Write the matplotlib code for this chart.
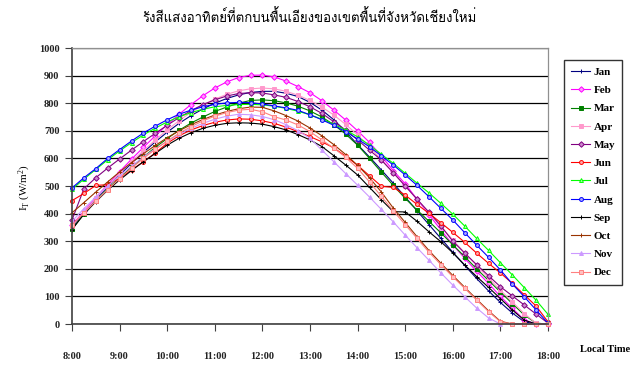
import numpy as np
import matplotlib
matplotlib.use('Agg')
import matplotlib.pyplot as plt
from matplotlib import font_manager
from matplotlib.ft2font import FT2Font

plt.rcParams.update({
    'font.family': ['Liberation Serif', 'DejaVu Serif'],
    'font.size': 8,
    'mathtext.fontset': 'custom',
    'mathtext.rm': 'Liberation Serif',
    'mathtext.it': 'Liberation Serif:italic',
})

TITLE = 'รังสีแสงอาทิตย์ที่ตกบนพื้นเอียงของเขตพื้นที่จังหวัดเชียงใหม่'
MONTHS = ['Jan', 'Feb', 'Mar', 'Apr', 'May', 'Jun',
          'Jul', 'Aug', 'Sep', 'Oct', 'Nov', 'Dec']
HOUR_LABELS = ['8:00', '9:00', '10:00', '11:00', '12:00', '13:00',
               '14:00', '15:00', '16:00', '17:00', '18:00']

# irradiance on tilted plane (W/m2), every 15 min from 8:00 to 18:00
jan = [350, 405, 452, 497, 540, 582, 622, 660, 695, 727, 755, 779, 800, 817,
       830, 839, 843, 843, 836, 824, 803, 775, 740, 697, 650, 605, 558, 510,
       460, 410, 360, 310, 260, 212, 165, 120, 78, 40, 8, 0, 0]
feb = [359, 408, 458, 505, 552, 597, 640, 682, 722, 760, 795, 827, 855, 877,
       893, 901, 902, 895, 880, 860, 838, 809, 775, 739, 700, 658, 608, 556,
       508, 452, 396, 341, 287, 238, 191, 147, 100, 57, 15, 0, 0]
mar = [344, 398, 445, 490, 530, 568, 605, 640, 672, 702, 728, 750, 770, 786,
       800, 810, 812, 809, 801, 789, 772, 750, 722, 688, 648, 600, 550, 502,
       455, 413, 372, 330, 287, 244, 200, 158, 116, 74, 33, 3, 0]
apr = [355, 405, 455, 502, 546, 588, 628, 667, 703, 737, 767, 793, 815, 832,
       845, 852, 855, 852, 843, 829, 810, 786, 757, 723, 685, 642, 596, 548,
       500, 451, 402, 353, 305, 258, 212, 167, 123, 80, 38, 3, 0]
may = [377, 490, 530, 565, 598, 630, 661, 691, 720, 748, 773, 795, 812, 826,
       835, 838, 837, 830, 821, 806, 787, 763, 733, 703, 667, 630, 594, 548,
       500, 452, 405, 355, 300, 257, 215, 175, 135, 102, 69, 36, 3]
jun = [447, 473, 502, 505, 528, 558, 588, 620, 655, 682, 703, 719, 731, 739,
       743, 742, 736, 727, 713, 697, 679, 660, 638, 608, 575, 537, 499, 495,
       467, 433, 401, 367, 332, 296, 257, 220, 185, 147, 106, 65, 8]
jul = [488, 525, 560, 595, 627, 657, 685, 710, 732, 751, 766, 778, 787, 792,
       795, 796, 794, 789, 781, 771, 758, 742, 724, 703, 678, 648, 615, 582,
       546, 510, 475, 437, 398, 355, 310, 267, 222, 178, 132, 86, 35]
aug = [493, 530, 563, 600, 632, 663, 692, 717, 740, 760, 775, 787, 796, 801,
       803, 802, 797, 790, 783, 774, 758, 740, 720, 697, 670, 642, 609, 576,
       540, 502, 461, 419, 377, 331, 286, 242, 196, 145, 99, 51, 3]
sep = [342, 398, 443, 485, 522, 556, 588, 618, 648, 673, 693, 709, 720, 727,
       729, 728, 724, 715, 703, 686, 667, 643, 610, 576, 540, 495, 450, 407,
       406, 372, 334, 298, 258, 214, 172, 133, 92, 51, 14, 0, 0]
oct_ = [403, 440, 478, 515, 551, 585, 617, 647, 675, 700, 722, 741, 757, 770,
        780, 786, 785, 772, 755, 735, 710, 682, 650, 614, 575, 530, 478, 420,
        368, 316, 266, 220, 176, 133, 90, 48, 10, 0, 0, 0, 0]
nov = [372, 418, 460, 500, 537, 572, 605, 635, 662, 687, 709, 727, 742, 753,
       760, 758, 752, 740, 722, 700, 673, 630, 588, 545, 503, 460, 415, 370,
       322, 276, 231, 185, 141, 99, 58, 22, 0, 0, 0, 0, 0]
dec = [360, 402, 445, 487, 527, 565, 600, 633, 663, 691, 715, 736, 753, 766,
       775, 778, 769, 751, 739, 721, 697, 667, 637, 604, 564, 515, 462, 410,
       360, 310, 260, 215, 171, 129, 87, 45, 8, 0, 0, 0, 0]

SERIES = [jan, feb, mar, apr, may, jun, jul, aug, sep, oct_, nov, dec]

# (line colour, marker, marker face)
STYLES = [
    ('#000080', '+', '#000080'),
    ('#FF00FF', 'D', '#FF99FF'),
    ('#008000', 's', '#008000'),
    ('#FF99CC', 's', '#FF99CC'),
    ('#800080', 'D', '#CC88CC'),
    ('#FF0000', 'o', '#FFAAAA'),
    ('#00FF00', '^', '#AAFFAA'),
    ('#0000FF', 'o', '#AAAAFF'),
    ('#000000', '+', '#000000'),
    ('#993300', '+', '#993300'),
    ('#CC99FF', '^', '#CC99FF'),
    ('#FF8080', 's', '#FFC0C0'),
]


def thai_font():
    for f in font_manager.fontManager.ttflist:
        try:
            if 0x0E23 in FT2Font(f.fname).get_charmap():
                return f.name
        except Exception:
            pass
    return None


W, H = 632, 367
fig = plt.figure(figsize=(W / 100, H / 100), dpi=100)
ax = fig.add_axes([72 / W, 1 - 324 / H, (548 - 72) / W, (324 - 48) / H])

times = np.linspace(8, 18, len(jan))
for vals, name, (c, m, mfc) in zip(SERIES, MONTHS, STYLES):
    ax.plot(times, vals, color=c, lw=0.8, marker=m, ms=2.8,
            mfc=mfc, mec=c, mew=0.7, label=name, clip_on=False)

ax.set_xlim(8, 18)
ax.set_ylim(0, 1000)
ax.set_xticks(np.arange(8, 19))
ax.set_xticklabels(HOUR_LABELS)
ax.set_yticks(np.arange(0, 1001, 100))
ax.yaxis.grid(True, color='black', lw=0.9)
ax.set_axisbelow(True)
ax.tick_params(axis='x', direction='out', length=5, pad=15, labelsize=7.5,
               color='#404040')
ax.tick_params(axis='y', direction='out', length=5, pad=4, labelsize=7.5,
               color='#404040')
for lab in ax.get_xticklabels() + ax.get_yticklabels():
    lab.set_fontweight('bold')
    lab.set_color('#222222')
for side in ['top', 'right']:
    ax.spines[side].set_color('#909090')
    ax.spines[side].set_linewidth(0.9)
for side in ['left', 'bottom']:
    ax.spines[side].set_color('#404040')
    ax.spines[side].set_linewidth(1.2)

tf = thai_font()
fam = [tf, 'DejaVu Sans'] if tf else ['DejaVu Sans']
fig.text(310 / W, 1 - 17 / H, TITLE, ha='center', va='center',
         fontsize=9.5, family=fam)

fig.text(25 / W, 1 - 188 / H, r'I$_\mathrm{T}$ (W/m$^2$)', rotation=90,
         ha='center', va='center', fontsize=8)
fig.text(605 / W, 1 - 349 / H, 'Local Time', ha='center', va='center',
         fontsize=7.5, fontweight='bold')

leg = fig.legend(loc='upper left', bbox_to_anchor=(564 / W, 1 - 60 / H),
                 frameon=True, fancybox=False, edgecolor='black',
                 fontsize=8, labelspacing=0.76, handlelength=1.7,
                 handletextpad=0.3, borderpad=0.65, borderaxespad=0)
leg.get_frame().set_linewidth(1.0)
for t in leg.get_texts():
    t.set_fontweight('bold')

fig.savefig('out.png', dpi=100)
